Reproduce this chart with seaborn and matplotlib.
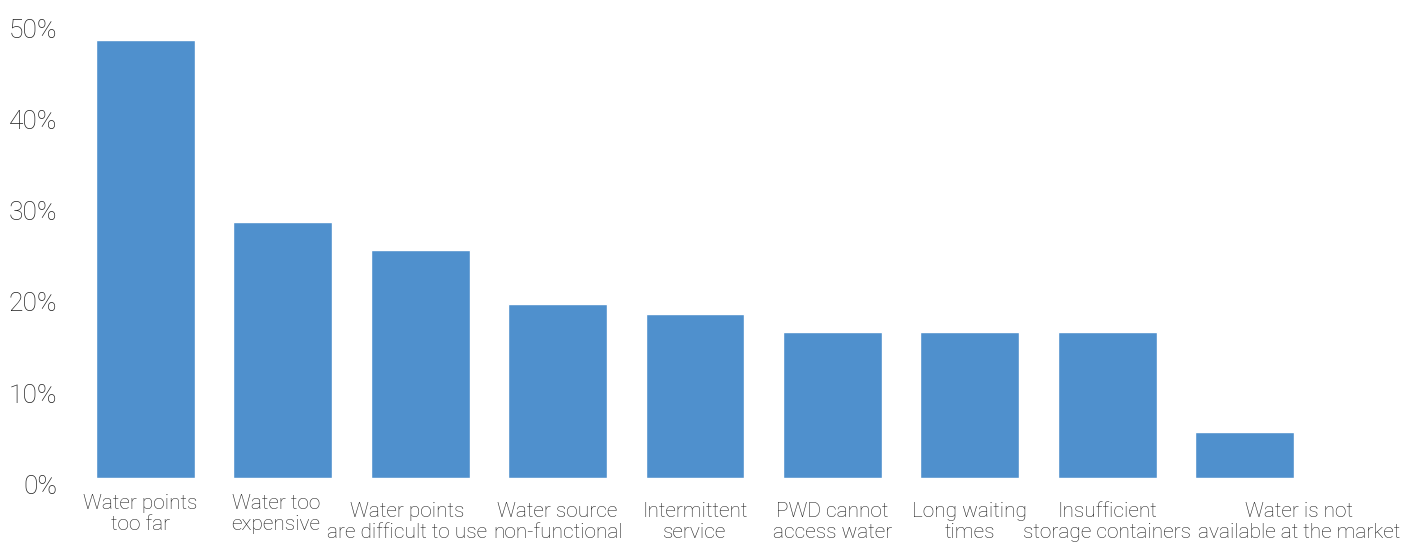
import matplotlib
matplotlib.use('Agg')
import matplotlib.pyplot as plt
import matplotlib.transforms as mtransforms
from matplotlib.ticker import PercentFormatter
import pandas as pd
import seaborn as sns

# data
categories = [
    'Water points\ntoo far',
    'Water too\nexpensive',
    'Water points\nare difficult to use',
    'Water source\nnon-functional',
    'Intermittent\nservice',
    'PWD cannot\naccess water',
    'Long waiting\ntimes',
    'Insufficient\nstorage containers',
    'Water is not\navailable at the market',
]
shares = [0.48, 0.28, 0.25, 0.19, 0.18, 0.16, 0.16, 0.16, 0.05]
y_ticks = [0.0, 0.1, 0.2, 0.3, 0.4, 0.5]

df = pd.DataFrame({'category': categories, 'share': shares})

sns.set_style('white')
plt.rcParams['font.family'] = ['Roboto', 'DejaVu Sans']
text_color = '#1f1f1f'

fig = plt.figure(figsize=(14.04, 5.42), dpi=100)
ax = fig.add_axes([0.0547, 0.1186, 0.8806, 0.8414])

sns.barplot(data=df, x='category', y='share', color='#4F90CD',
            saturation=1, width=0.72, ax=ax)

ax.set_ylim(0, 0.5)
ax.set_xlim(-0.5, len(categories) - 0.5)
ax.set_yticks(y_ticks)
ax.yaxis.set_major_formatter(PercentFormatter(1.0, decimals=0))
ax.set_xlabel('')
ax.set_ylabel('')
for s in ax.spines.values():
    s.set_visible(False)
ax.tick_params(axis='both', length=0)
ax.tick_params(axis='y', pad=14, labelsize=19, labelcolor=text_color)
ax.tick_params(axis='x', pad=17.5, labelsize=15, labelcolor=text_color)

for lab in ax.get_yticklabels():
    lab.set_fontweight('light')
    lab.set_transform(lab.get_transform() +
                      mtransforms.ScaledTranslation(0, -6.5 / 100, fig.dpi_scale_trans))

# small shifts of the category labels, as in the original layout (pixels)
shift_x = [-5, -7, -13, 0, 0, 0, 0, 0, 55]
shift_y = [8, 8, 0, 0, 0, 0, 0, 0, 0]
for lab, dx, dy in zip(ax.get_xticklabels(), shift_x, shift_y):
    lab.set_fontweight('light')
    lab.set_linespacing(1.15)
    lab.set_transform(lab.get_transform() +
                      mtransforms.ScaledTranslation(dx / 100, dy / 100, fig.dpi_scale_trans))

fig.savefig('out.png', dpi=100)
